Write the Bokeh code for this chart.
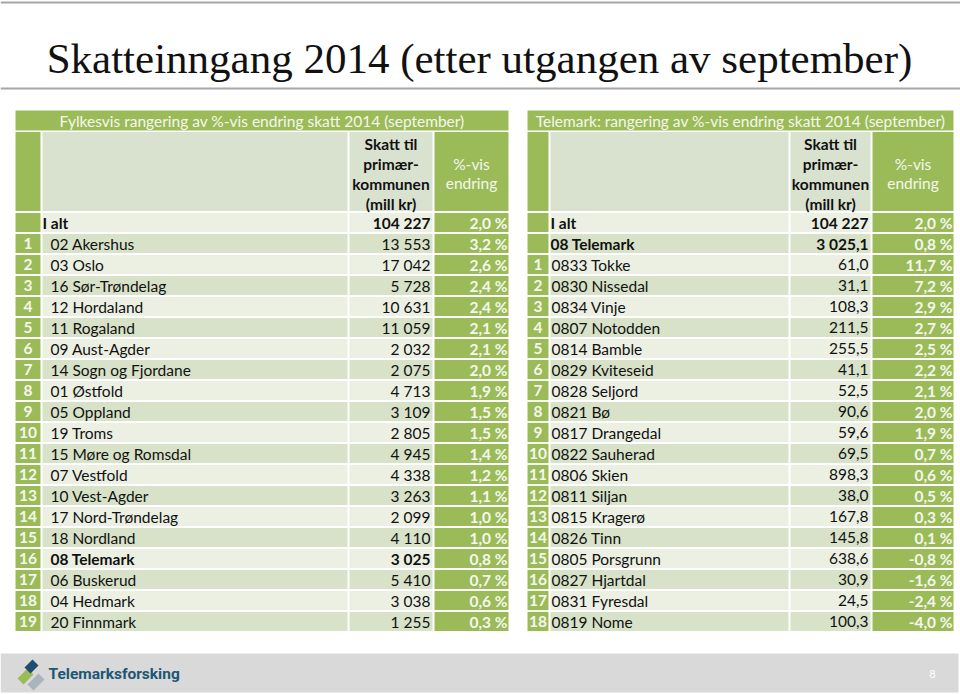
from bokeh.plotting import figure
from bokeh.models import Range1d, ColumnDataSource
from bokeh.core.properties import value
from bokeh.embed import file_html
from bokeh.resources import INLINE

# ---------------- data ----------------
title_text = "Skatteinngang 2014 (etter utgangen av september)"
left_caption = "Fylkesvis rangering av %-vis endring skatt 2014 (september)"
right_caption = "Telemark: rangering av %-vis endring skatt 2014 (september)"
header_value = ["Skatt til", "primær-", "kommunen", "(mill kr)"]
header_pct = ["%-vis", "endring"]
logo_text = "Telemarksforsking"
page_number = "8"

total_label = "I alt"
total_tax = 104227
total_pct = 2.0

county_names = ["02 Akershus", "03 Oslo", "16 Sør-Trøndelag", "12 Hordaland",
                "11 Rogaland", "09 Aust-Agder", "14 Sogn og Fjordane", "01 Østfold",
                "05 Oppland", "19 Troms", "15 Møre og Romsdal", "07 Vestfold",
                "10 Vest-Agder", "17 Nord-Trøndelag", "18 Nordland", "08 Telemark",
                "06 Buskerud", "04 Hedmark", "20 Finnmark"]
county_tax = [13553, 17042, 5728, 10631, 11059, 2032, 2075, 4713, 3109, 2805,
              4945, 4338, 3263, 2099, 4110, 3025, 5410, 3038, 1255]
county_pct = [3.2, 2.6, 2.4, 2.4, 2.1, 2.1, 2.0, 1.9, 1.5, 1.5,
              1.4, 1.2, 1.1, 1.0, 1.0, 0.8, 0.7, 0.6, 0.3]
county_bold = ["08 Telemark"]

telemark_label = "08 Telemark"
telemark_tax = 3025.1
telemark_pct = 0.8

muni_names = ["0833 Tokke", "0830 Nissedal", "0834 Vinje", "0807 Notodden",
              "0814 Bamble", "0829 Kviteseid", "0828 Seljord", "0821 Bø",
              "0817 Drangedal", "0822 Sauherad", "0806 Skien", "0811 Siljan",
              "0815 Kragerø", "0826 Tinn", "0805 Porsgrunn", "0827 Hjartdal",
              "0831 Fyresdal", "0819 Nome"]
muni_tax = [61.0, 31.1, 108.3, 211.5, 255.5, 41.1, 52.5, 90.6, 59.6, 69.5,
            898.3, 38.0, 167.8, 145.8, 638.6, 30.9, 24.5, 100.3]
muni_pct = [11.7, 7.2, 2.9, 2.7, 2.5, 2.2, 2.1, 2.0, 1.9, 0.7,
            0.6, 0.5, 0.3, 0.1, -0.8, -1.6, -2.4, -4.0]

# ---------------- formatting ----------------
def fmt_int(v):
    return f"{v:,.0f}".replace(",", " ")

def fmt_dec(v):
    return f"{v:,.1f}".replace(",", " ").replace(".", ",")

def fmt_pct(v):
    return f"{v:.1f}".replace(".", ",") + " %"

# ---------------- style ----------------
GREEN = "#9BBB59"
BAND_DARK = "#D7E2C8"
BAND_LIGHT = "#EBF0E3"
HEAD_CELL = "#D9E1CF"
LIGHT_TXT = "#F4F7EE"
FONT = "Lato"
FS = "15.5px"

W, H = 960, 694
p = figure(width=W, height=H, x_range=Range1d(0, W), y_range=Range1d(H, 0),
           toolbar_location=None, output_backend="svg", tools="",
           x_axis_type=None, y_axis_type=None, min_border=0)
p.grid.visible = False
p.outline_line_color = None
p.background_fill_color = "white"
p.border_fill_color = "white"

# title + rules
p.segment(x0=[0, 0], x1=[960, 960], y0=[2, 88], y1=[2, 88], line_color="#A6A6A6", line_width=2)
p.text(x=[479], y=[58], text=[title_text], text_font=value("Liberation Serif"),
       text_font_size="43px", text_align="center", text_baseline="alphabetic", text_color="#111111")

ROW0, ROW_H, HALF = 222, 21, 9.6


def draw_table(cols, caption, rows, rank_cx, name_x_ranked, name_x_plain):
    (r0, r1), (n0, n1), (v0, v1), (q0, q1) = cols
    # caption band
    p.quad(left=[r0], right=[q1], top=[110], bottom=[130], fill_color=GREEN, line_color=None)
    p.text(x=[(r0 + q1) / 2], y=[120.5], text=[caption], text_font=value(FONT), text_font_size="15.5px",
           text_align="center", text_baseline="middle", text_color=LIGHT_TXT)
    # header block
    p.quad(left=[r0, n0, v0, q0], right=[r1, n1, v1, q1], top=[131.5] * 4, bottom=[210.5] * 4,
           fill_color=[GREEN, HEAD_CELL, HEAD_CELL, GREEN], line_color=None)
    p.text(x=[(v0 + v1) / 2] * len(header_value), y=[143 + 20 * i for i in range(len(header_value))],
           text=header_value, text_font=value(FONT), text_font_size=FS, text_font_style="bold",
           text_align="center", text_baseline="middle", text_color="#111111")
    p.text(x=[(q0 + q1) / 2] * len(header_pct), y=[163 + 19.5 * i for i in range(len(header_pct))],
           text=header_pct, text_font=value(FONT), text_font_size=FS,
           text_align="center", text_baseline="middle", text_color=LIGHT_TXT)

    n = len(rows)
    yc = [ROW0 + ROW_H * j for j in range(n)]
    src = ColumnDataSource(dict(
        yc=yc,
        top=[y - HALF for y in yc],
        bottom=[y + HALF for y in yc],
        band=[BAND_DARK if j % 2 else BAND_LIGHT for j in range(n)],
        rank=[r["rank"] for r in rows],
        name=[r["name"] for r in rows],
        namex=[name_x_ranked if r["rank"] else name_x_plain for r in rows],
        val=[r["val"] for r in rows],
        pct=[r["pct"] for r in rows],
        style=["bold" if r["bold"] else "normal" for r in rows],
    ))
    p.quad(left=r0, right=r1, top="top", bottom="bottom", fill_color=GREEN, line_color=None, source=src)
    p.quad(left=n0, right=n1, top="top", bottom="bottom", fill_color="band", line_color=None, source=src)
    p.quad(left=v0, right=v1, top="top", bottom="bottom", fill_color="band", line_color=None, source=src)
    p.quad(left=q0, right=q1, top="top", bottom="bottom", fill_color=GREEN, line_color=None, source=src)
    p.text(x=rank_cx, y="yc", text="rank", source=src, text_font=value(FONT), text_font_size=FS,
           text_font_style="bold", text_align="center", text_baseline="middle", text_color=LIGHT_TXT)
    p.text(x="namex", y="yc", text="name", source=src, text_font=value(FONT), text_font_size=FS,
           text_font_style="style", text_align="left", text_baseline="middle", text_color="#111111")
    p.text(x=v1 - 2, y="yc", text="val", source=src, text_font=value(FONT), text_font_size=FS,
           text_font_style="style", text_align="right", text_baseline="middle", text_color="#111111")
    p.text(x=q1 - 1, y="yc", text="pct", source=src, text_font=value(FONT), text_font_size=FS,
           text_font_style="bold", text_align="right", text_baseline="middle", text_color=LIGHT_TXT)


left_rows = [dict(rank="", name=total_label, val=fmt_int(total_tax), pct=fmt_pct(total_pct), bold=True)]
for i, (nm, t, pc) in enumerate(zip(county_names, county_tax, county_pct)):
    left_rows.append(dict(rank=str(i + 1), name=nm, val=fmt_int(t), pct=fmt_pct(pc), bold=nm in county_bold))

right_rows = [dict(rank="", name=total_label, val=fmt_int(total_tax), pct=fmt_pct(total_pct), bold=True),
              dict(rank="", name=telemark_label, val=fmt_dec(telemark_tax), pct=fmt_pct(telemark_pct), bold=True)]
for i, (nm, t, pc) in enumerate(zip(muni_names, muni_tax, muni_pct)):
    right_rows.append(dict(rank=str(i + 1), name=nm, val=fmt_dec(t), pct=fmt_pct(pc), bold=False))

draw_table(((15, 40), (42, 347), (349, 432), (434, 508)), left_caption, left_rows, 27.5, 50, 42)
draw_table(((527, 548), (550, 788), (790, 870), (872, 953)), right_caption, right_rows, 537.5, 551, 550)

# footer
p.quad(left=[0], right=[958], top=[653], bottom=[692], fill_color="#D9D9D9", line_color=None)
p.patch(x=[17, 27, 33, 23], y=[678, 668, 674, 684], fill_color="#9BBB59", line_color=None)
p.patch(x=[24, 32, 38, 30], y=[667, 659, 665, 673], fill_color="#1F4E6E", line_color=None)
p.patch(x=[27, 38, 44, 33], y=[684, 673, 679, 690], fill_color="#A9B4BC", line_color=None)
p.text(x=[48], y=[673], text=[logo_text], text_font=value("Roboto"), text_font_size="15.5px",
       text_font_style="bold", text_align="left", text_baseline="middle", text_color="#1E5675")
p.text(x=[932], y=[673], text=[page_number], text_font=value(FONT), text_font_size="11px",
       text_align="center", text_baseline="middle", text_color="#FFFFFF")

open("out.html", "w").write(file_html(p, INLINE))
